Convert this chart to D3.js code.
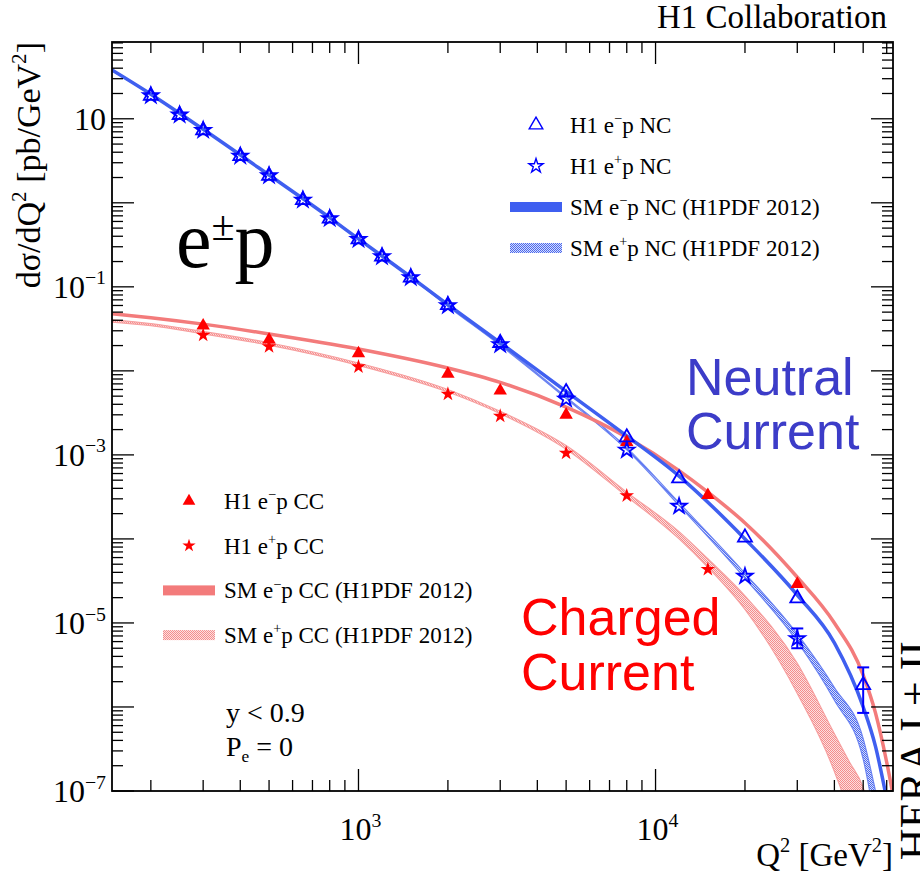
<!DOCTYPE html>
<html>
<head>
<meta charset="utf-8">
<script src="https://cdn.jsdelivr.net/npm/d3@7"></script>
<style>
body{margin:0;background:#fff;}
text{font-family:'Liberation Serif','Times New Roman',serif;fill:#000;}
</style>
</head>
<body>
<div id="container"></div>
<script>
var width = 920, height = 875;

// H1 NC data points
var ncQ2   = [200,250,300,400,500,650,800,1000,1200,1500,2000,3000,5000,8000,12000,20000,30000,50000];
var ncEm   = [18.8,11.1,7.3,3.6,2.1,1.08,0.65,0.367,0.229,0.129,0.0605,0.0215,0.0056,0.00162,5.25e-4,1.04e-4,1.96e-5,1.82e-6];
var ncEpQ2 = [200,250,300,400,500,650,800,1000,1200,1500,2000,3000,5000,8000,12000,20000,30000];
var ncEp   = [18.8,11.1,7.3,3.6,2.1,1.08,0.65,0.367,0.229,0.129,0.0597,0.0205,0.0046,0.00114,2.45e-4,3.6e-5,6.5e-6];

// H1 CC data points
var ccEmQ2 = [300,500,1000,2000,3000,5000,8000,15000,30000];
var ccEm   = [0.0345,0.0235,0.0161,0.0092,0.0058,0.0030,0.00142,3.32e-4,2.9e-5];
var ccEpQ2 = [300,500,1000,2000,3000,5000,8000,15000];
var ccEp   = [0.0267,0.0195,0.0112,0.0053,0.0029,0.00105,3.27e-4,4.35e-5];

// visible error bars
var errPts = [
  {q2:50000, lo:8.5e-7, hi:2.96e-6},
  {q2:30000, lo:5.0e-6, hi:8.6e-6}
];

// SM e-p NC (line)
var smNcEmQ2 = [148,200,300,500,800,1000,1500,2000,3000,5000,8000,12000,20000,30000,40000,50000,55000,60000];
var smNcEm   = [38,19.6,7.5,2.14,0.665,0.372,0.131,0.0615,0.0216,0.0057,0.00168,5.6e-4,1.0e-4,2.15e-5,5.8e-6,1.0e-6,3.4e-7,8e-8];
// SM e+p NC (band)
var smNcEpQ2 = [148,200,300,500,800,1000,1500,2000,3000,5000,8000,12000,20000,30000,40000,50000,55000];
var smNcEpLo = [37.6,19.4,7.42,2.12,0.658,0.366,0.129,0.0585,0.0201,0.0047,0.00115,2.5e-4,3.4e-5,6.0e-6,1.2e-6,2.4e-7,4e-8];
var smNcEpHi = [38.4,19.8,7.58,2.16,0.672,0.376,0.133,0.0600,0.0209,0.0049,0.00122,2.7e-4,3.9e-5,7.4e-6,1.7e-6,4.2e-7,1.0e-7];

// SM e-p CC (line)
var smCcEmQ2 = [148,200,300,500,1000,2000,3000,5000,8000,12000,15000,20000,30000,40000,50000,55000,60000,63000];
var smCcEm   = [0.048,0.043,0.036,0.0275,0.0182,0.0108,0.0073,0.0037,0.00162,6.5e-4,3.6e-4,1.55e-4,3.5e-5,1.0e-5,2.4e-6,8.5e-7,2.2e-7,9e-8];
// SM e+p CC (band)
var smCcEpQ2 = [148,200,300,500,1000,2000,3000,5000,8000,12000,15000,20000,30000,40000,45000,50000,55000];
var smCcEpLo = [0.038,0.0345,0.0276,0.0202,0.0116,0.0056,0.0031,0.00117,3.2e-4,1.0e-4,4.6e-5,1.45e-5,1.45e-6,1.7e-7,5e-8,8e-9,1e-9];
var smCcEpHi = [0.0405,0.0365,0.0294,0.0216,0.0124,0.0060,0.0033,0.00129,3.6e-4,1.22e-4,5.8e-5,2.1e-5,3.3e-6,4.8e-7,2.2e-7,1.1e-7,3e-8];

var yLabelVals = [10,1e-1,1e-3,1e-5,1e-7];
var yLabelText = ['10','10^{\u22121}','10^{\u22123}','10^{\u22125}','10^{\u22127}'];
var xLabelVals = [1e3,1e4];
var xLabelText = ['10^{3}','10^{4}'];

var ncLegend = ['H1 e^{\u2212}p NC','H1 e^{+}p NC','SM e^{\u2212}p NC (H1PDF 2012)','SM e^{+}p NC (H1PDF 2012)'];
var ccLegend = ['H1 e^{\u2212}p CC','H1 e^{+}p CC','SM e^{\u2212}p CC (H1PDF 2012)','SM e^{+}p CC (H1PDF 2012)'];

var blue = '#0000ff', lineBlue = '#3f5ff0', red = '#ff0000', lineRed = '#f37b7b';

var svg = d3.select('#container').append('svg')
  .attr('width', width)
  .attr('height', height);

var defs = svg.append('defs');
function hatch(id, color, bg){
  var p = defs.append('pattern')
    .attr('id', id)
    .attr('width', 2).attr('height', 2)
    .attr('patternUnits', 'userSpaceOnUse');
  p.append('rect').attr('x',0).attr('y',0).attr('width',2).attr('height',2).style('fill',bg);
  p.append('rect').attr('x',0).attr('y',0).attr('width',1).attr('height',1).style('fill',color).attr('shape-rendering','crispEdges');
  p.append('rect').attr('x',1).attr('y',1).attr('width',1).attr('height',1).style('fill',color).attr('shape-rendering','crispEdges');
}
hatch('hatchBlue', '#4a68f0', '#d8def9');
hatch('hatchRed', '#f58c8c', '#fbe0e0');

var padL = 112, padR = 893, padT = 42, padB = 791;

defs.append('clipPath').attr('id','plotClip')
  .append('rect')
  .attr('x', padL).attr('y', padT)
  .attr('width', padR-padL).attr('height', padB-padT);

var x = d3.scaleLog().domain([148, 63000]).range([padL, padR]);
var y = d3.scaleLog().domain([1e-7, 82]).range([padB, padT]);

function rich(sel, str, size){
  var parts = str.split(/(\^\{[^}]*\}|_\{[^}]*\})/);
  var shift = 0;
  sel.style('font-size', size + 'px');
  parts.forEach(function(p){
    if (!p) return;
    var target = 0, fs = size;
    if (p[0] == '^'){ target = -0.42*size; fs = 0.62*size; p = p.slice(2,-1); }
    else if (p[0] == '_'){ target = 0.22*size; fs = 0.62*size; p = p.slice(2,-1); }
    sel.append('tspan')
      .attr('dy', target - shift)
      .style('font-size', fs + 'px')
      .text(p);
    shift = target;
  });
  return sel;
}

var plot = svg.append('g').attr('clip-path','url(#plotClip)');

function band(q2, lo, hi){
  var pts = q2.map(function(d,i){ return {q:d, lo:lo[i], hi:hi[i]}; });
  return d3.area()
    .x(function(d){ return x(d.q); })
    .y0(function(d){ return y(d.lo); })
    .y1(function(d){ return y(d.hi); })
    .curve(d3.curveMonotoneX)(pts);
}
function curve(q2, v){
  var pts = q2.map(function(d,i){ return {q:d, v:v[i]}; });
  return d3.line()
    .x(function(d){ return x(d.q); })
    .y(function(d){ return y(d.v); })
    .curve(d3.curveMonotoneX)(pts);
}

plot.append('path')
  .attr('d', band(smCcEpQ2, smCcEpLo, smCcEpHi))
  .style('fill','url(#hatchRed)')
  .style('stroke','#f7a0a0')
  .style('stroke-width',1.2);

plot.append('path')
  .attr('d', band(smNcEpQ2, smNcEpLo, smNcEpHi))
  .style('fill','url(#hatchBlue)')
  .style('stroke','#6c84f2')
  .style('stroke-width',1.2);

plot.append('path')
  .attr('d', curve(smCcEmQ2, smCcEm))
  .style('fill','none')
  .style('stroke',lineRed)
  .style('stroke-width',3.5);

plot.append('path')
  .attr('d', curve(smNcEmQ2, smNcEm))
  .style('fill','none')
  .style('stroke',lineBlue)
  .style('stroke-width',3.5);

// markers
var triOpen = d3.symbol().type(d3.symbolTriangle).size(85);
var starOpen = d3.symbol().type(d3.symbolStar).size(72);
var triFill = d3.symbol().type(d3.symbolTriangle).size(78);
var starFill = d3.symbol().type(d3.symbolStar).size(66);

function pts(q2, v){ return q2.map(function(d,i){ return {q:d, v:v[i]}; }); }

svg.selectAll('.ccem')
  .data(pts(ccEmQ2, ccEm))
  .enter().append('path')
  .attr('class','ccem')
  .attr('transform', function(d){ return 'translate(' + x(d.q) + ',' + y(d.v) + ')'; })
  .attr('d', triFill)
  .style('fill', red);

svg.selectAll('.ccep')
  .data(pts(ccEpQ2, ccEp))
  .enter().append('path')
  .attr('class','ccep')
  .attr('transform', function(d){ return 'translate(' + x(d.q) + ',' + y(d.v) + ')'; })
  .attr('d', starFill)
  .style('fill', red);

svg.selectAll('.err')
  .data(errPts)
  .enter().append('g')
  .attr('class','err')
  .each(function(d){
    var g = d3.select(this), cx = x(d.q2);
    g.append('line').attr('x1',cx).attr('x2',cx).attr('y1',y(d.lo)).attr('y2',y(d.hi));
    g.append('line').attr('x1',cx-6).attr('x2',cx+6).attr('y1',y(d.lo)).attr('y2',y(d.lo));
    g.append('line').attr('x1',cx-6).attr('x2',cx+6).attr('y1',y(d.hi)).attr('y2',y(d.hi));
  })
  .selectAll('line')
  .style('stroke', blue)
  .style('stroke-width', 2);

svg.selectAll('.ncep')
  .data(pts(ncEpQ2, ncEp))
  .enter().append('path')
  .attr('class','ncep')
  .attr('transform', function(d){ return 'translate(' + x(d.q) + ',' + y(d.v) + ')'; })
  .attr('d', starOpen)
  .style('fill','none')
  .style('stroke', blue)
  .style('stroke-width', 1.8);

svg.selectAll('.ncem')
  .data(pts(ncQ2, ncEm))
  .enter().append('path')
  .attr('class','ncem')
  .attr('transform', function(d){ return 'translate(' + x(d.q) + ',' + y(d.v) + ')'; })
  .attr('d', triOpen)
  .style('fill','none')
  .style('stroke', blue)
  .style('stroke-width', 1.8);

// frame and ticks
var axes = svg.append('g').style('stroke','#000');
axes.append('rect')
  .attr('x', padL).attr('y', padT)
  .attr('width', padR-padL).attr('height', padB-padT)
  .style('fill','none')
  .style('stroke-width', 1.8);

function isMajor(v){ var l = Math.log10(v); return Math.abs(l - Math.round(l)) < 1e-6; }

y.ticks().forEach(function(v){
  var len = isMajor(v) ? 22 : 11, py = y(v);
  axes.append('line').attr('x1',padL).attr('x2',padL+len).attr('y1',py).attr('y2',py).style('stroke-width',1.3);
  axes.append('line').attr('x1',padR).attr('x2',padR-len).attr('y1',py).attr('y2',py).style('stroke-width',1.3);
});
x.ticks().forEach(function(v){
  var len = isMajor(v) ? 22 : 11, px = x(v);
  axes.append('line').attr('x1',px).attr('x2',px).attr('y1',padB).attr('y2',padB-len).style('stroke-width',1.3);
  axes.append('line').attr('x1',px).attr('x2',px).attr('y1',padT).attr('y2',padT+len).style('stroke-width',1.3);
});

yLabelVals.forEach(function(v,i){
  rich(svg.append('text')
    .attr('x', 106)
    .attr('y', y(v) + 11)
    .attr('text-anchor','end'), yLabelText[i], 32);
});
xLabelVals.forEach(function(v,i){
  rich(svg.append('text')
    .attr('x', x(v) + 2)
    .attr('y', 840)
    .attr('text-anchor','middle'), xLabelText[i], 32);
});

rich(svg.append('text')
  .attr('x', padR)
  .attr('y', 866)
  .attr('text-anchor','end'), 'Q^{2} [GeV^{2}]', 33);

rich(svg.append('text')
  .attr('transform','translate(40,42) rotate(-90)')
  .attr('text-anchor','end'), 'd\u03c3/dQ^{2} [pb/GeV^{2}]', 34);

svg.append('text')
  .attr('x', 887).attr('y', 28)
  .attr('text-anchor','end')
  .style('font-size','33px')
  .text('H1 Collaboration');

svg.append('text')
  .attr('transform','translate(930,641) rotate(-90)')
  .attr('text-anchor','end')
  .style('font-size','44px')
  .text('HERA I + II');

// e±p
var ep = svg.append('text').attr('x',176).attr('y',267);
ep.append('tspan').style('font-size','80px').text('e');
ep.append('tspan').attr('dy',-27).style('font-size','42px').text('\u00b1');
ep.append('tspan').attr('dy',27).style('font-size','80px').text('p');

svg.append('text').attr('x',226).attr('y',722).style('font-size','28px').text('y < 0.9');
rich(svg.append('text').attr('x',226).attr('y',756), 'P_{e} = 0', 28);

// big labels
var sans = "'Liberation Sans', Arial, sans-serif";
[['Neutral',686,395],['Current',686,449]].forEach(function(t){
  svg.append('text').attr('x',t[1]).attr('y',t[2])
    .style('font-family',sans).style('font-size','52px').style('fill','#3c3cc8')
    .text(t[0]);
});
[['Charged',521,635],['Current',521,690]].forEach(function(t){
  svg.append('text').attr('x',t[1]).attr('y',t[2])
    .style('font-family',sans).style('font-size','52px').style('fill',red)
    .text(t[0]);
});

// legends
function legend(entries, mx, tx, y0, dy, fs, mk){
  entries.forEach(function(label, i){
    var cy = y0 + i*dy;
    if (i == 0) {
      svg.append('path').attr('transform','translate(' + mx + ',' + cy + ')')
        .attr('d', mk.tri).style('fill', mk.fill ? red : 'none')
        .style('stroke', mk.fill ? 'none' : blue).style('stroke-width',1.4);
    } else if (i == 1) {
      svg.append('path').attr('transform','translate(' + mx + ',' + cy + ')')
        .attr('d', mk.star).style('fill', mk.fill ? red : 'none')
        .style('stroke', mk.fill ? 'none' : blue).style('stroke-width',1.4);
    } else {
      svg.append('rect')
        .attr('x', mx - 26).attr('y', cy - 5)
        .attr('width', 52).attr('height', 10)
        .style('fill', i == 2 ? mk.line : mk.hatch);
    }
    rich(svg.append('text').attr('x', tx).attr('y', cy + 8), label, fs);
  });
}
legend(ncLegend, 536, 570, 125, 41, 23, {
  tri: d3.symbol().type(d3.symbolTriangle).size(80)(),
  star: d3.symbol().type(d3.symbolStar).size(62)(),
  fill: false, line: lineBlue, hatch: 'url(#hatchBlue)'
});
legend(ccLegend, 189, 224, 501, 44.7, 23, {
  tri: d3.symbol().type(d3.symbolTriangle).size(70)(),
  star: d3.symbol().type(d3.symbolStar).size(55)(),
  fill: true, line: lineRed, hatch: 'url(#hatchRed)'
});
</script>
</body>
</html>
